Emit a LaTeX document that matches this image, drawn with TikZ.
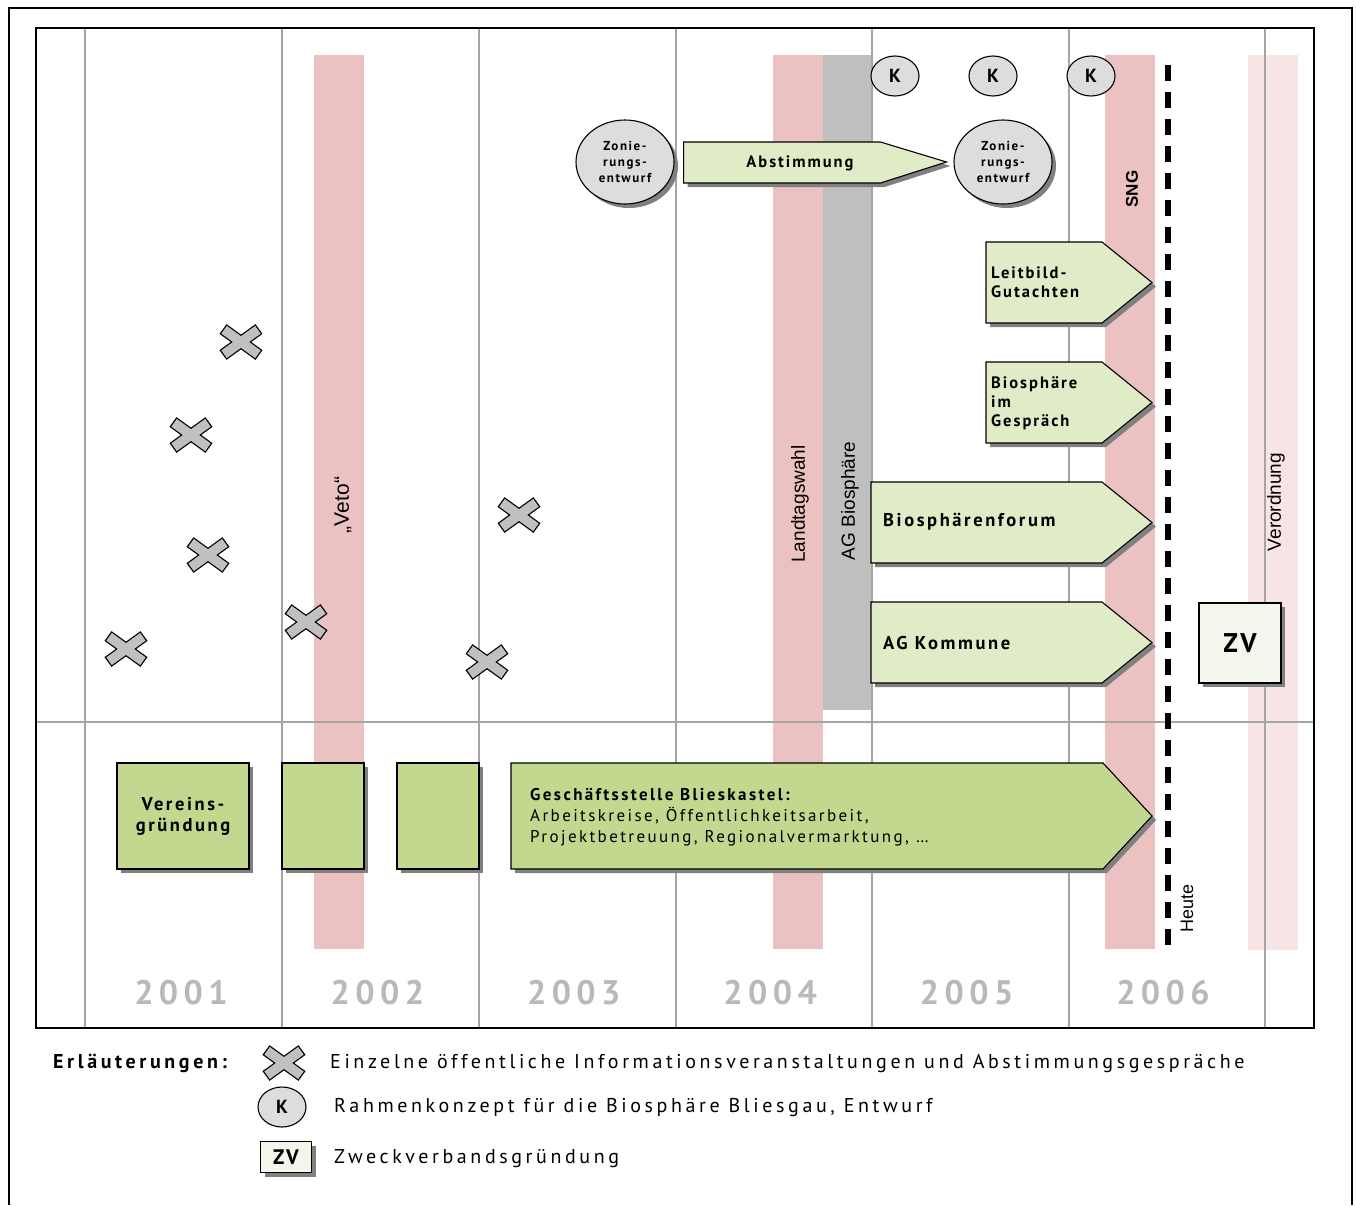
\documentclass[tikz,border=0pt]{standalone}
\usepackage{fontspec}
\setmainfont{PT Sans}
\newfontfamily\spfont[LetterSpace=12]{PT Sans}
\newfontfamily\boxfont[LetterSpace=14]{PT Sans}
\newfontfamily\legfont[LetterSpace=18]{PT Sans}
\newfontfamily\jahrfont[LetterSpace=16]{PT Sans}
\newfontfamily\arialfont{Liberation Sans}
\usetikzlibrary{shapes.geometric,calc}
\definecolor{bandrot}{RGB}{235,193,194}
\definecolor{bandhell}{RGB}{247,228,229}
\definecolor{aggrau}{RGB}{191,191,191}
\definecolor{hellgruen}{RGB}{224,235,199}
\definecolor{dunkelgruen}{RGB}{194,216,142}
\definecolor{zvgruen}{RGB}{243,246,234}
\definecolor{kgrau}{RGB}{221,221,221}
\definecolor{kreuzgrau}{RGB}{192,192,192}
\definecolor{schattengrau}{RGB}{128,128,128}
\definecolor{jahrgrau}{RGB}{185,185,185}
\definecolor{gittergrau}{RGB}{165,165,165}
\newcommand{\fLab}{\spfont\bfseries\fontsize{16.5}{19}\selectfont}
\newcommand{\fGross}{\boxfont\bfseries\fontsize{18.5}{21}\selectfont}
\newcommand{\fBox}{\boxfont\fontsize{17}{21}\selectfont}
\newcommand{\fZone}{\spfont\bfseries\fontsize{13}{16}\selectfont}
\newcommand{\fLeg}{\legfont\fontsize{20}{24}\selectfont}
\newcommand{\fBand}{\arialfont\fontsize{19}{22}\selectfont}
\tikzset{
  schatten/.style={preaction={fill=schattengrau, transform canvas={xshift=4pt, yshift=-4pt}}},
  gitter/.style={gittergrau, line width=1.3pt},
  hellpfeil/.style={draw=black, line width=1.1pt, fill=hellgruen, schatten},
  dunkelpfeil/.style={draw=black, line width=1.1pt, fill=dunkelgruen, schatten},
  gbox/.style={draw=black, line width=1.1pt, fill=dunkelgruen, schatten,
               minimum height=106pt, inner sep=0pt, align=center, font=\fGross},
  zvbox/.style={draw=black, line width=1.1pt, fill=zvgruen, schatten, inner sep=0pt,
               font=\spfont\bfseries\fontsize{27}{30}\selectfont},
  kreis/.style={ellipse, draw=black, line width=1.1pt, fill=kgrau, inner sep=0pt,
               minimum width=48pt, minimum height=40pt, font=\spfont\bfseries\fontsize{19}{20}\selectfont},
  zone/.style={ellipse, draw=black, line width=1.1pt, fill=kgrau, schatten, inner sep=0pt,
               minimum width=98pt, minimum height=84pt, align=center, font=\fZone},
  pfeiltext/.style={anchor=west, inner sep=0pt, align=left, font=\fLab},
  bandtext/.style={rotate=90, inner sep=0pt, font=\fBand},
  jahr/.style={text=jahrgrau, inner sep=0pt, font=\jahrfont\bfseries\fontsize{34}{36}\selectfont},
  legtext/.style={anchor=west, inner sep=0pt, font=\fLeg},
  heute/.style={black, line width=5.5pt, dash pattern=on 16pt off 11pt},
  kreuz/.pic={
    \draw[black, line width=12pt] (-18,-13) -- (18,13) (-18,13) -- (18,-13);
    \draw[kreuzgrau, line width=9.5pt, shorten <=1.3pt, shorten >=1.3pt] (-18,-13) -- (18,13);
    \draw[kreuzgrau, line width=9.5pt, shorten <=1.3pt, shorten >=1.3pt] (-18,13) -- (18,-13);
  },
}
% Pfeil: links, oben, Koerper rechts, Spitze, unten, Stil
\newcommand{\pfeil}[6]{%
  \draw[#6] (#1,#2) -- (#3,#2) -- (#4,{(#2+#5)/2}) -- (#3,#5) -- (#1,#5) -- cycle;
}

\begin{document}
\begin{tikzpicture}[x=1pt, y=-1pt]
  \useasboundingbox (0,0) rectangle (1356,1205);
  \fill[white] (0,0) rectangle (1356,1205);
  % Baender
  \fill[bandrot] (314,55) rectangle (364,949);
  \fill[bandrot] (773,55) rectangle (823,949);
  \fill[aggrau] (823,55) rectangle (871,710);
  \fill[bandrot] (1105,55) rectangle (1155,949);
  \fill[bandhell] (1248,55) rectangle (1298,950);
  % Raster
  \foreach \x in {85,282,479,676,872,1069,1265}
    \draw[gitter] (\x,28) -- (\x,1028);
  \draw[gitter] (36,722) -- (1314,722);
  \draw[black, line width=1.5pt] (36,28) rectangle (1314,1028);
  \draw[black, line width=2.5pt] (9,1205) -- (9,8) -- (1352,8) -- (1352,1205);
  % Bandbeschriftungen
  \node[bandtext, font=\arialfont\fontsize{21}{24}\selectfont] (veto) at (343,505) {„Veto“};
  \node[bandtext] (landtag) at (800,504) {Landtagswahl};
  \node[bandtext] (agbio) at (850,501) {AG Biosphäre};
  \node[bandtext, font=\arialfont\bfseries\fontsize{17}{20}\selectfont] (sng) at (1132,189) {SNG};
  \node[bandtext] (verord) at (1276,502) {Verordnung};
  % Heute
  \coordinate (heuteoben) at (1168,65);
  \coordinate (heuteunten) at (1168,945);
  \draw[heute] (heuteoben) -- (heuteunten);
  \node[bandtext, font=\arialfont\fontsize{18}{20}\selectfont] (heute) at (1187,908) {Heute};
  % Rahmenkonzepte
  \node[kreis] (k1) at (895,76) {K};
  \node[kreis] (k2) at (993,76) {K};
  \node[kreis] (k3) at (1091,76) {K};
  % Zonierung
  \node[zone] (zone1) at (625,162) {Zonie-\\rungs-\\entwurf};
  \node[zone] (zone2) at (1003,162) {Zonie-\\rungs-\\entwurf};
  \draw[hellpfeil] ($(zone1.east)+(9,-20)$) -- ($(zone2.west)+(-73,-20)$)
    -- ($(zone2.west)+(-7,0)$) -- ($(zone2.west)+(-73,21)$) -- ($(zone1.east)+(9,21)$) -- cycle;
  \node[font=\fLab, inner sep=0pt] (abst) at (800,163) {Abstimmung};
  % Arbeitsgruppen
  \pfeil{986}{242}{1102}{1152}{323}{hellpfeil}
  \node[pfeiltext] (leitbild) at (991,282) {Leitbild-\\Gutachten};
  \pfeil{986}{362}{1102}{1152}{443}{hellpfeil}
  \node[pfeiltext] (gespraech) at (991,403) {Biosphäre\\im\\Gespräch};
  \pfeil{871}{482}{1102}{1152}{563}{hellpfeil}
  \node[pfeiltext, font=\fGross] (forum) at (883,522) {Biosphärenforum};
  \pfeil{871}{602}{1102}{1152}{683}{hellpfeil}
  \node[pfeiltext, font=\fGross] (kommune) at (883,643) {AG Kommune};
  \node[zvbox, minimum width=82pt, minimum height=80pt] (zv) at (1240,643) {ZV};
  % Veranstaltungen
  \foreach \px/\py in {126/649, 241/342, 191/435, 208/555, 306/622, 519/515, 487/662}
    \pic at (\px,\py) {kreuz};
  % Verein und Geschaeftsstelle
  \node[gbox, minimum width=132pt] (verein) at (183,816) {Vereins-\\gründung};
  \node[gbox, minimum width=82pt] (box2) at (323,816) {};
  \node[gbox, minimum width=82pt] (box3) at (438,816) {};
  \pfeil{511}{763}{1103}{1152}{869}{dunkelpfeil}
  \node[pfeiltext, font=\fBox] (gst) at (530,817)
    {\textbf{Geschäftsstelle Blieskastel:}\\Arbeitskreise, Öffentlichkeitsarbeit,\\Projektbetreuung, Regionalvermarktung, …};
  % Jahre
  \foreach \j [count=\i] in {2001,2002,2003,2004,2005,2006}
    \node[jahr] (j\j) at ({181+196.4*(\i-1)},993) {\j};
  % Erlaeuterungen
  \node[legtext, font=\legfont\bfseries\fontsize{20}{24}\selectfont] (erl) at (53,1063) {Erläuterungen:};
  \pic at (284,1063) {kreuz};
  \node[legtext] (leg1) at (330,1063) {Einzelne öffentliche Informationsveranstaltungen und Abstimmungsgespräche};
  \node[kreis] (legk) at (282,1107) {K};
  \node[legtext] (leg2) at (334,1108) {Rahmenkonzept für die Biosphäre Bliesgau, Entwurf};
  \node[zvbox, minimum width=51pt, minimum height=31pt, font=\spfont\bfseries\fontsize{21}{22}\selectfont] (legzv) at (286,1157) {ZV};
  \node[legtext] (leg3) at (334,1159) {Zweckverbandsgründung};
\end{tikzpicture}
\end{document}
